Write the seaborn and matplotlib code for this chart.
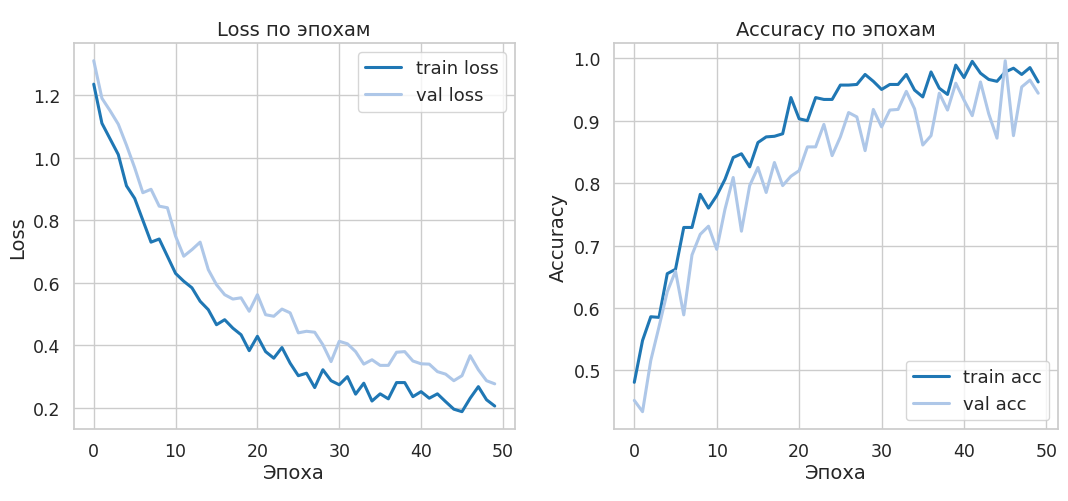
import matplotlib

matplotlib.use("Agg")
import matplotlib.pyplot as plt
import seaborn as sns

# значения (50 эпох)
epochs = list(range(50))

train_loss = [1.235, 1.11, 1.06, 1.01, 0.91, 0.87, 0.80, 0.73, 0.74, 0.685,
              0.63, 0.605, 0.584, 0.541, 0.514, 0.466, 0.482, 0.455, 0.434, 0.383,
              0.429, 0.38, 0.359, 0.393, 0.343, 0.303, 0.311, 0.265, 0.322, 0.287,
              0.274, 0.30, 0.244, 0.279, 0.222, 0.245, 0.229, 0.281, 0.281, 0.236,
              0.252, 0.231, 0.245, 0.22, 0.196, 0.188, 0.231, 0.268, 0.226, 0.206]
val_loss = [1.31, 1.19, 1.15, 1.107, 1.04, 0.968, 0.888, 0.899, 0.845, 0.84,
            0.749, 0.685, 0.706, 0.73, 0.642, 0.594, 0.562, 0.548, 0.552, 0.509,
            0.562, 0.498, 0.493, 0.516, 0.504, 0.44, 0.445, 0.442, 0.402, 0.348,
            0.413, 0.405, 0.38, 0.34, 0.354, 0.336, 0.336, 0.378, 0.38, 0.35,
            0.341, 0.34, 0.316, 0.308, 0.287, 0.303, 0.367, 0.322, 0.287, 0.277]

train_acc = [0.481, 0.548, 0.586, 0.585, 0.655, 0.662, 0.729, 0.729, 0.782, 0.76,
             0.78, 0.806, 0.841, 0.847, 0.826, 0.865, 0.874, 0.875, 0.879, 0.937,
             0.903, 0.90, 0.937, 0.934, 0.934, 0.957, 0.957, 0.958, 0.974, 0.963,
             0.95, 0.958, 0.958, 0.974, 0.949, 0.938, 0.978, 0.952, 0.942, 0.989,
             0.969, 0.995, 0.976, 0.966, 0.963, 0.978, 0.984, 0.974, 0.985, 0.962]
val_acc = [0.452, 0.434, 0.516, 0.57, 0.626, 0.659, 0.589, 0.685, 0.718, 0.731,
           0.694, 0.758, 0.809, 0.723, 0.796, 0.825, 0.785, 0.833, 0.796, 0.811,
           0.82, 0.858, 0.858, 0.894, 0.844, 0.874, 0.913, 0.906, 0.852, 0.918,
           0.89, 0.917, 0.918, 0.947, 0.919, 0.861, 0.876, 0.944, 0.917, 0.96,
           0.933, 0.908, 0.962, 0.911, 0.872, 0.996, 0.876, 0.954, 0.965, 0.944]

sns.set_theme(style="whitegrid")
plt.rcParams["font.family"] = ["DejaVu Sans"]

dark = "#1f77b4"
light = "#aec7e8"

fig = plt.figure(figsize=(10.68, 5.02), dpi=100)
ax1 = fig.add_axes([0.069, 0.143, 0.413, 0.769])
ax2 = fig.add_axes([0.575, 0.143, 0.416, 0.769])

# 1. Loss
sns.lineplot(x=epochs, y=train_loss, ax=ax1, color=dark, linewidth=2.2, label="train loss")
sns.lineplot(x=epochs, y=val_loss, ax=ax1, color=light, linewidth=2.2, label="val loss")
ax1.set_title("Loss по эпохам", fontsize=14)
ax1.set_xlabel("Эпоха", fontsize=14, labelpad=2)
ax1.set_ylabel("Loss", fontsize=14)
ax1.set_xticks([0, 10, 20, 30, 40, 50])
ax1.tick_params(labelsize=12.5)
ax1.legend(loc="upper right", fontsize=13)

# 2. Accuracy
sns.lineplot(x=epochs, y=train_acc, ax=ax2, color=dark, linewidth=2.2, label="train acc")
sns.lineplot(x=epochs, y=val_acc, ax=ax2, color=light, linewidth=2.2, label="val acc")
ax2.set_title("Accuracy по эпохам", fontsize=14)
ax2.set_xlabel("Эпоха", fontsize=14, labelpad=2)
ax2.set_ylabel("Accuracy", fontsize=14)
ax2.set_xticks([0, 10, 20, 30, 40, 50])
ax2.tick_params(labelsize=12.5)
ax2.legend(loc="lower right", fontsize=13)

fig.savefig("out.png", dpi=100)
plt.close(fig)
